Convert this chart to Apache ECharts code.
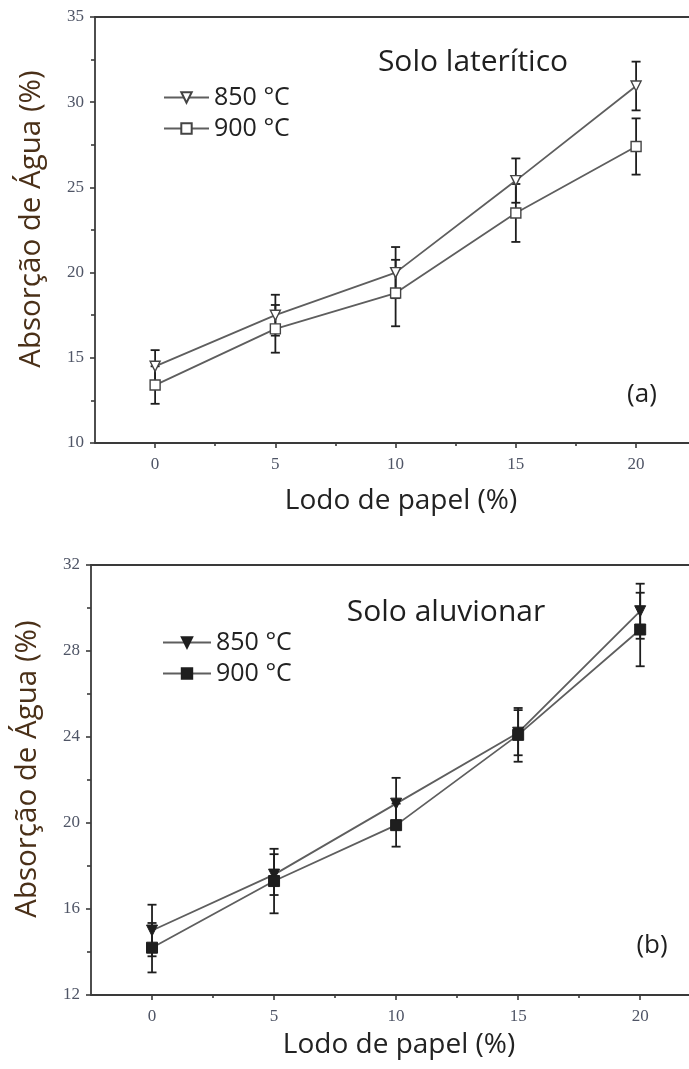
<!DOCTYPE html>
<html>
<head>
<meta charset="utf-8">
<script src="https://cdn.jsdelivr.net/npm/echarts@6/dist/echarts.min.js"></script>
<style>
  html, body { margin: 0; padding: 0; background: #ffffff; overflow: hidden; width: 689px; height: 1069px; }
  #chart { width: 689px; height: 1069px; }
</style>
</head>
<body>
<div id="chart"></div>
<script>
// Paper sludge content (%)
const sludge = [0, 5, 10, 15, 20];
const xTickValues = [0, 5, 10, 15, 20];
const xMinorValues = [2.5, 7.5, 12.5, 17.5];

// (a) Solo laterítico — water absorption (%) and error
const lat850 = [14.5, 17.5, 20.0, 25.4, 30.95];
const lat850Err = [0.95, 1.2, 1.5, 1.3, 1.43];
const lat900 = [13.4, 16.7, 18.8, 23.5, 27.4];
const lat900Err = [1.1, 1.4, 1.95, 1.7, 1.65];

// (b) Solo aluvionar — water absorption (%) and error
const alu850 = [15.0, 17.6, 20.9, 24.2, 29.85];
const alu850Err = [1.2, 0.95, 1.2, 1.05, 1.28];
const alu900 = [14.2, 17.3, 19.9, 24.1, 29.0];
const alu900Err = [1.15, 1.5, 1.0, 1.25, 1.71];

const legendText = { a850: '850 °C', a900: '900 °C', b850: '850 °C', b900: '900 °C' };

const AXIS = '#3a3a3a';
const LINE = '#5e5e5e';
const BAR = '#1e1e1e';
const SANS = '"Open Sans", "Noto Sans", sans-serif';
const SERIF = '"Liberation Serif", "DejaVu Serif", serif';

function pairs(vals) { return sludge.map((x, i) => [x, vals[i]]); }
function bars(vals, errs) { return sludge.map((x, i) => [x, vals[i] - errs[i], vals[i] + errs[i]]); }

function renderErrorBar(params, api) {
  const x = api.value(0);
  const top = api.coord([x, api.value(2)]);
  const bot = api.coord([x, api.value(1)]);
  const w = 4.5;
  const style = { stroke: BAR, lineWidth: 1.8 };
  return {
    type: 'group',
    children: [
      { type: 'line', shape: { x1: top[0], y1: top[1], x2: bot[0], y2: bot[1] }, style },
      { type: 'line', shape: { x1: top[0] - w, y1: top[1], x2: top[0] + w, y2: top[1] }, style },
      { type: 'line', shape: { x1: bot[0] - w, y1: bot[1], x2: bot[0] + w, y2: bot[1] }, style }
    ]
  };
}

// each grid has three x axes: main (bottom), minor ticks (bottom), frame line (top)
function errorSeries(idx, vals, errs) {
  return {
    type: 'custom', xAxisIndex: idx * 3, yAxisIndex: idx, z: 1, clip: false,
    renderItem: renderErrorBar, data: bars(vals, errs),
    encode: { x: 0, y: [1, 2] }, silent: true
  };
}

function lineSeries(name, idx, vals, symbol, rotate, filled) {
  return {
    name, type: 'line', xAxisIndex: idx * 3, yAxisIndex: idx, z: 3, clip: false,
    data: pairs(vals), symbol, symbolRotate: rotate, symbolSize: filled ? 11 : 10,
    showAllSymbol: true,
    lineStyle: { color: LINE, width: 1.8 },
    itemStyle: filled ? { color: '#1e1e1e', borderColor: '#1e1e1e', borderWidth: 1 }
                      : { color: '#ffffff', borderColor: '#444', borderWidth: 1.4 },
    emphasis: { disabled: true }
  };
}

// the frame is cut at the right page edge, so the x range stops a little past 22
function xAxesFor(gridIndex, xMax) {
  return [
    {
      type: 'value', gridIndex, position: 'bottom', min: -2.5, max: xMax,
      name: 'Lodo de papel (%)', nameLocation: 'middle', nameGap: gridIndex === 0 ? 44 : 36,
      nameTextStyle: { fontFamily: SANS, fontSize: 28, color: '#222', padding: [0, 0, 0, 18] },
      axisLine: { show: true, onZero: false, lineStyle: { color: AXIS, width: 1.8 } },
      axisTick: { show: true, inside: false, length: 5, customValues: xTickValues, lineStyle: { color: AXIS, width: 1.6 } },
      axisLabel: { show: true, customValues: xTickValues, margin: 13, fontFamily: SERIF, fontSize: 17, color: '#4f5566' },
      splitLine: { show: false }
    },
    {
      type: 'value', gridIndex, position: 'bottom', min: -2.5, max: xMax,
      axisLine: { show: false, onZero: false },
      axisTick: { show: true, inside: false, length: 3, customValues: xMinorValues, lineStyle: { color: AXIS, width: 1.6 } },
      axisLabel: { show: false },
      splitLine: { show: false }
    },
    {
      type: 'value', gridIndex, position: 'top', min: -2.5, max: xMax,
      axisLine: { show: true, onZero: false, lineStyle: { color: AXIS, width: 1.8 } },
      axisTick: { show: false },
      axisLabel: { show: false },
      splitLine: { show: false }
    }
  ];
}

function yAxisFor(gridIndex, min, max, interval) {
  return {
    type: 'value', gridIndex, position: 'left', min, max, interval,
    name: 'Absorção de Água (%)', nameLocation: 'middle', nameGap: 48,
    nameTextStyle: { fontFamily: SANS, fontSize: 29.5, color: '#4a3018', padding: [0, 0, 0, 22] },
    axisLine: { show: true, onZero: false, lineStyle: { color: AXIS, width: 1.8 } },
    axisTick: { show: true, inside: false, length: 5, lineStyle: { color: AXIS, width: 1.6 } },
    minorTick: { show: true, splitNumber: 2, length: 4, lineStyle: { color: AXIS, width: 1.6 } },
    axisLabel: { margin: 11, fontFamily: SERIF, fontSize: 17, color: '#4f5566' },
    splitLine: { show: false }
  };
}

function legendBlock(names, left, top, width) {
  return {
    data: names, orient: 'vertical', left, top, padding: 0,
    itemWidth: width, itemHeight: 13, itemGap: 6,
    symbolRotate: 'inherit',
    formatter: (n) => legendText[n],
    textStyle: { fontFamily: SANS, fontSize: 25, color: '#222' },
    selectedMode: false
  };
}

const chart = echarts.init(document.getElementById('chart'), null, { renderer: 'canvas' });

chart.setOption({
  backgroundColor: '#ffffff',
  animation: false,
  grid: [
    { left: 95, top: 17, width: 594, height: 426, outerBoundsMode: 'none', containLabel: false, show: false },
    { left: 91, top: 565, width: 598, height: 430, outerBoundsMode: 'none', containLabel: false, show: false }
  ],
  xAxis: [...xAxesFor(0, 22.2), ...xAxesFor(1, 22.0)],
  yAxis: [yAxisFor(0, 10, 35, 5), yAxisFor(1, 12, 32, 4)],
  legend: [
    legendBlock(['a850', 'a900'], 163, 85, 45),
    legendBlock(['b850', 'b900'], 162, 630, 48)
  ],
  graphic: [
    { type: 'text', x: 473, y: 62, style: { text: 'Solo laterítico', font: '30px ' + SANS, fill: '#1f1f1f', align: 'center', verticalAlign: 'middle' } },
    { type: 'text', x: 642, y: 395, style: { text: '(a)', font: '26px ' + SANS, fill: '#1f1f1f', align: 'center', verticalAlign: 'middle' } },
    { type: 'text', x: 446, y: 612, style: { text: 'Solo aluvionar', font: '30px ' + SANS, fill: '#1f1f1f', align: 'center', verticalAlign: 'middle' } },
    { type: 'text', x: 652, y: 946, style: { text: '(b)', font: '26px ' + SANS, fill: '#1f1f1f', align: 'center', verticalAlign: 'middle' } }
  ],
  series: [
    errorSeries(0, lat850, lat850Err),
    errorSeries(0, lat900, lat900Err),
    lineSeries('a850', 0, lat850, 'triangle', 180, false),
    lineSeries('a900', 0, lat900, 'rect', 0, false),
    errorSeries(1, alu850, alu850Err),
    errorSeries(1, alu900, alu900Err),
    lineSeries('b850', 1, alu850, 'triangle', 180, true),
    lineSeries('b900', 1, alu900, 'rect', 0, true)
  ]
});
</script>
</body>
</html>
